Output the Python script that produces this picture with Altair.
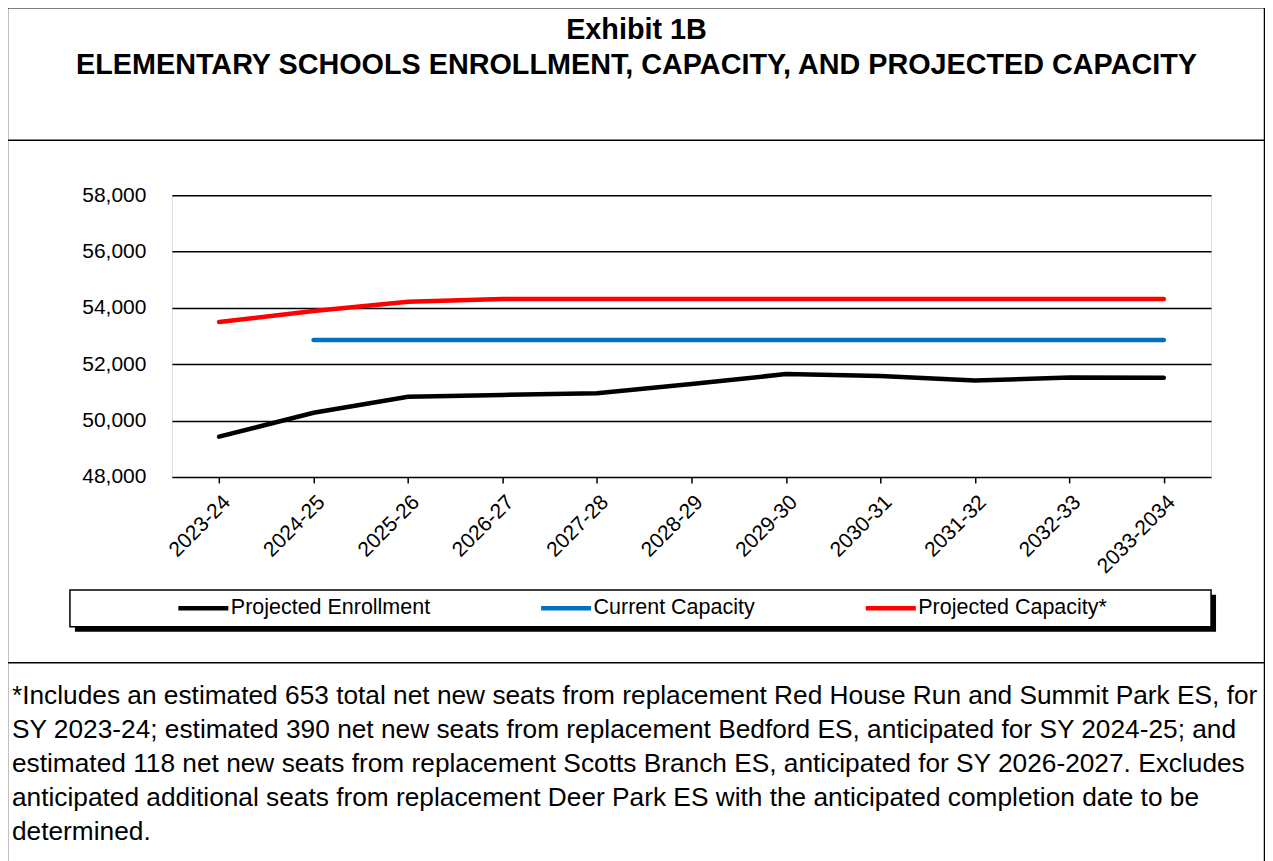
import altair as alt
import pandas as pd

years = ["2023-24", "2024-25", "2025-26", "2026-27", "2027-28", "2028-29",
         "2029-30", "2030-31", "2031-32", "2032-33", "2033-2034"]
enrollment = [49430, 50280, 50850, 50910, 50970, 51300, 51650, 51580, 51420, 51530, 51520]
current_capacity = [None, 52860, 52860, 52860, 52860, 52860, 52860, 52860, 52860, 52860, 52860]
projected_capacity = [53500, 53890, 54220, 54320, 54320, 54320, 54320, 54320, 54320, 54320, 54320]
y_ticks = [48000, 50000, 52000, 54000, 56000, 58000]

series_names = ["Projected Enrollment", "Current Capacity", "Projected Capacity*"]
series_colors = ["#000000", "#0070C0", "#FF0000"]

title_lines = ["Exhibit 1B", "ELEMENTARY SCHOOLS ENROLLMENT, CAPACITY, AND PROJECTED CAPACITY"]
footnote_lines = [
    "*Includes an estimated 653 total net new seats from replacement Red House Run and Summit Park ES, for",
    "SY 2023-24; estimated 390 net new seats from replacement Bedford ES, anticipated for SY 2024-25; and",
    "estimated 118 net new seats from replacement Scotts Branch ES, anticipated for SY 2026-2027. Excludes",
    "anticipated additional seats from replacement Deer Park ES with the anticipated completion date to be",
    "determined.",
]

rows = []
for name, vals in zip(series_names, [enrollment, current_capacity, projected_capacity]):
    for yr, v in zip(years, vals):
        if v is not None:
            rows.append({"Year": yr, "Value": v, "Series": name})
df = pd.DataFrame(rows)

FONT = "Liberation Sans"
one = pd.DataFrame({"a": [0]})

lines = alt.Chart(df).mark_line(strokeWidth=4.5, strokeCap="round").encode(
    x=alt.X("Year:N", sort=years, scale=alt.Scale(type="point", padding=0.5),
            axis=alt.Axis(title=None, labelAngle=-45, labelFontSize=21, labelFont=FONT,
                          labelColor="black", tickColor="black", tickSize=6, tickWidth=1.5,
                          domain=False, grid=False, labelPadding=8)),
    y=alt.Y("Value:Q", scale=alt.Scale(domain=[48000, 58000], nice=False),
            axis=alt.Axis(title=None, values=y_ticks,
                          labelExpr="format(datum.value, ',.0f')", labelFontSize=21,
                          labelFont=FONT, labelColor="black",
                          ticks=False, domain=False, grid=True, gridColor="black",
                          gridWidth=1.5, labelPadding=26)),
    color=alt.Color("Series:N", sort=series_names,
                    scale=alt.Scale(domain=series_names, range=series_colors),
                    legend=alt.Legend(title=None, orient="none", legendX=4, legendY=386,
                                      direction="horizontal", columnPadding=101,
                                      symbolType="stroke", symbolSize=2500,
                                      symbolStrokeWidth=4.5, labelFontSize=21.5, labelFont=FONT,
                                      labelColor="black", labelOffset=0, padding=0,
                                      labelLimit=500)),
    order=alt.Order("Series:N"),
)

layers = []

def rule(x1, x2, y1, y2, w=1.5):
    return alt.Chart(one).mark_rule(color="black", strokeWidth=w, clip=False).encode(
        x=alt.value(x1), x2=alt.value(x2), y=alt.value(y1), y2=alt.value(y2))

# outer frame and dividers
layers.append(rule(-164.5, -164.5, -187.5, 700))
layers.append(rule(1093.5, 1093.5, -187.5, 700))
layers.append(rule(-164.5, 1093.5, -187.5, -187.5))
layers.append(rule(-164.5, 1093.5, -55, -55))
layers.append(rule(-164.5, 1093.5, 468, 468))

# legend box with shadow
layers.append(alt.Chart(one).mark_rect(color="black", clip=False).encode(
    x=alt.value(-97), x2=alt.value(1045), y=alt.value(400), y2=alt.value(437)))
layers.append(alt.Chart(one).mark_rect(fill="white", stroke="black", strokeWidth=1.5, clip=False).encode(
    x=alt.value(-102), x2=alt.value(1040), y=alt.value(395), y2=alt.value(432)))

# title
for i, t in enumerate(title_lines):
    layers.append(alt.Chart(one).mark_text(text=t, font=FONT, fontSize=28.8, fontWeight="bold",
                                           align="center", baseline="middle", color="black",
                                           clip=False).encode(
        x=alt.value(465), y=alt.value(-165 + 35 * i)))

# footnote
for i, t in enumerate(footnote_lines):
    layers.append(alt.Chart(one).mark_text(text=t, font=FONT, fontSize=26.3, align="left",
                                           baseline="middle", color="black", clip=False).encode(
        x=alt.value(-160), y=alt.value(501 + 34 * i)))

chart = alt.layer(*layers, lines).properties(
    width=1040, height=282,
    padding={"left": 164, "top": 187, "right": 54, "bottom": 384},
    autosize=alt.AutoSizeParams(type="none"),
).configure_view(stroke="black", strokeWidth=2).configure(background="white")

chart.save("out.html", embed_options={"renderer": "svg", "actions": False})
